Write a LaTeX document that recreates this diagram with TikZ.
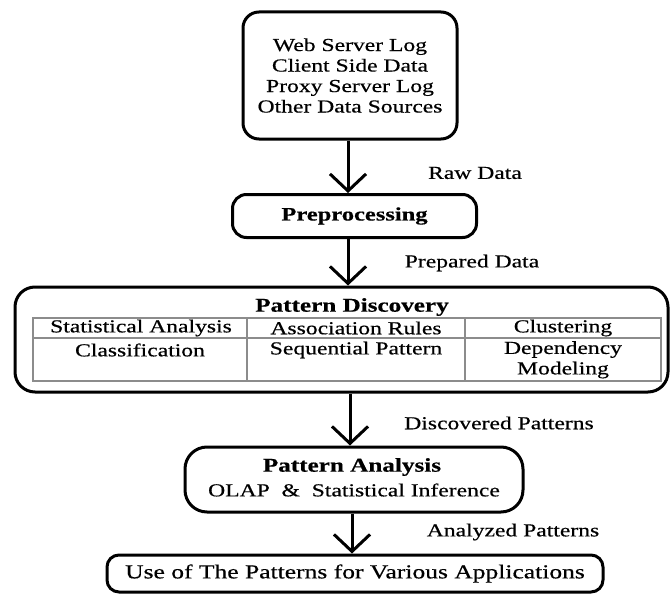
\documentclass[tikz,border=0pt]{standalone}
\usepackage{fontspec}
\setmainfont[FakeStretch=1.29,FakeBold=0.5]{Liberation Serif}
\usetikzlibrary{arrows.meta}
\tikzset{
  box/.style={draw, line width=3pt, rounded corners=16pt, inner sep=0pt, align=center},
  arr/.style={line width=3pt, -{Straight Barb[length=17pt,width=36pt,line width=3pt]}},
  lbl/.style={inner sep=0pt, font=\fontsize{18.3}{20.5}\selectfont},
  cell/.style={inner sep=0pt, align=center, font=\fontsize{18.3}{20.5}\selectfont},
  grid/.style={draw=black!45, line width=1.5pt},
}
\begin{document}
\begin{tikzpicture}[x=1pt,y=-1pt]
\useasboundingbox (0,0) rectangle (672,594);
% top box
\node[box, minimum width=214pt, minimum height=127pt,
  font=\fontsize{18.3}{20.5}\selectfont] (src) at (350,75.5)
  {Web Server Log\\Client Side Data\\Proxy Server Log\\Other Data Sources};
% preprocessing
\node[box, minimum width=244pt, minimum height=43pt, rounded corners=14pt,
  font=\fontsize{19}{22}\selectfont\bfseries] (pre) at (354.5,216) {Preprocessing};
% pattern discovery
\node[box, minimum width=653pt, minimum height=105pt, rounded corners=20pt] (pd) at (341.5,339.5) {};
\node[inner sep=0pt, font=\fontsize{19.5}{22}\selectfont\bfseries] (pdh) at (352,307) {Pattern Discovery};
% table
\coordinate (t1) at (33,318);
\coordinate (t2) at (661,381);
\draw[grid] (t1) rectangle (t2);
\draw[grid] (33,338) -- (661,338);
\draw[grid] (247,318) -- (247,381);
\draw[grid] (465,318) -- (465,381);
\node[cell] (c11) at (141,328) {Statistical Analysis};
\node[cell] (c12) at (356,328) {Association Rules};
\node[cell] (c13) at (563,328) {Clustering};
\node[cell] (c21) at (140,350) {Classification};
\node[cell] (c22) at (356,350) {Sequential Pattern};
\node[cell, anchor=north] (c23) at (563,341) {Dependency\\Modeling};
% pattern analysis
\node[box, minimum width=338pt, minimum height=65pt, rounded corners=22pt] (pa) at (354,479.5) {};
\node[inner sep=0pt, font=\fontsize{19.5}{22}\selectfont\bfseries] (pah) at (352,467) {Pattern Analysis};
\node[lbl] (pat) at (354,490) {OLAP \ \& \ Statistical Inference};
% bottom
\node[box, minimum width=496pt, minimum height=37pt, rounded corners=12pt,
  font=\fontsize{19.8}{22}\selectfont] (use) at (355,573.5) {Use of The Patterns for Various Applications};
% arrows
\draw[arr] (src.south -| 348,0) -- (pre.north -| 348,0);
\draw[arr] (pre.south -| 348,0) -- (pd.north -| 348,0);
\draw[arr] (pd.south -| 350,0) -- (pa.north -| 350,0);
\draw[arr] (pa.south -| 352,0) -- (use.north -| 352,0);
% labels
\node[lbl] (l1) at (475,173) {Raw Data};
\node[lbl] (l2) at (472,263) {Prepared Data};
\node[lbl] (l3) at (499,423) {Discovered Patterns};
\node[lbl] (l4) at (513,532) {Analyzed Patterns};
\end{tikzpicture}
\end{document}
